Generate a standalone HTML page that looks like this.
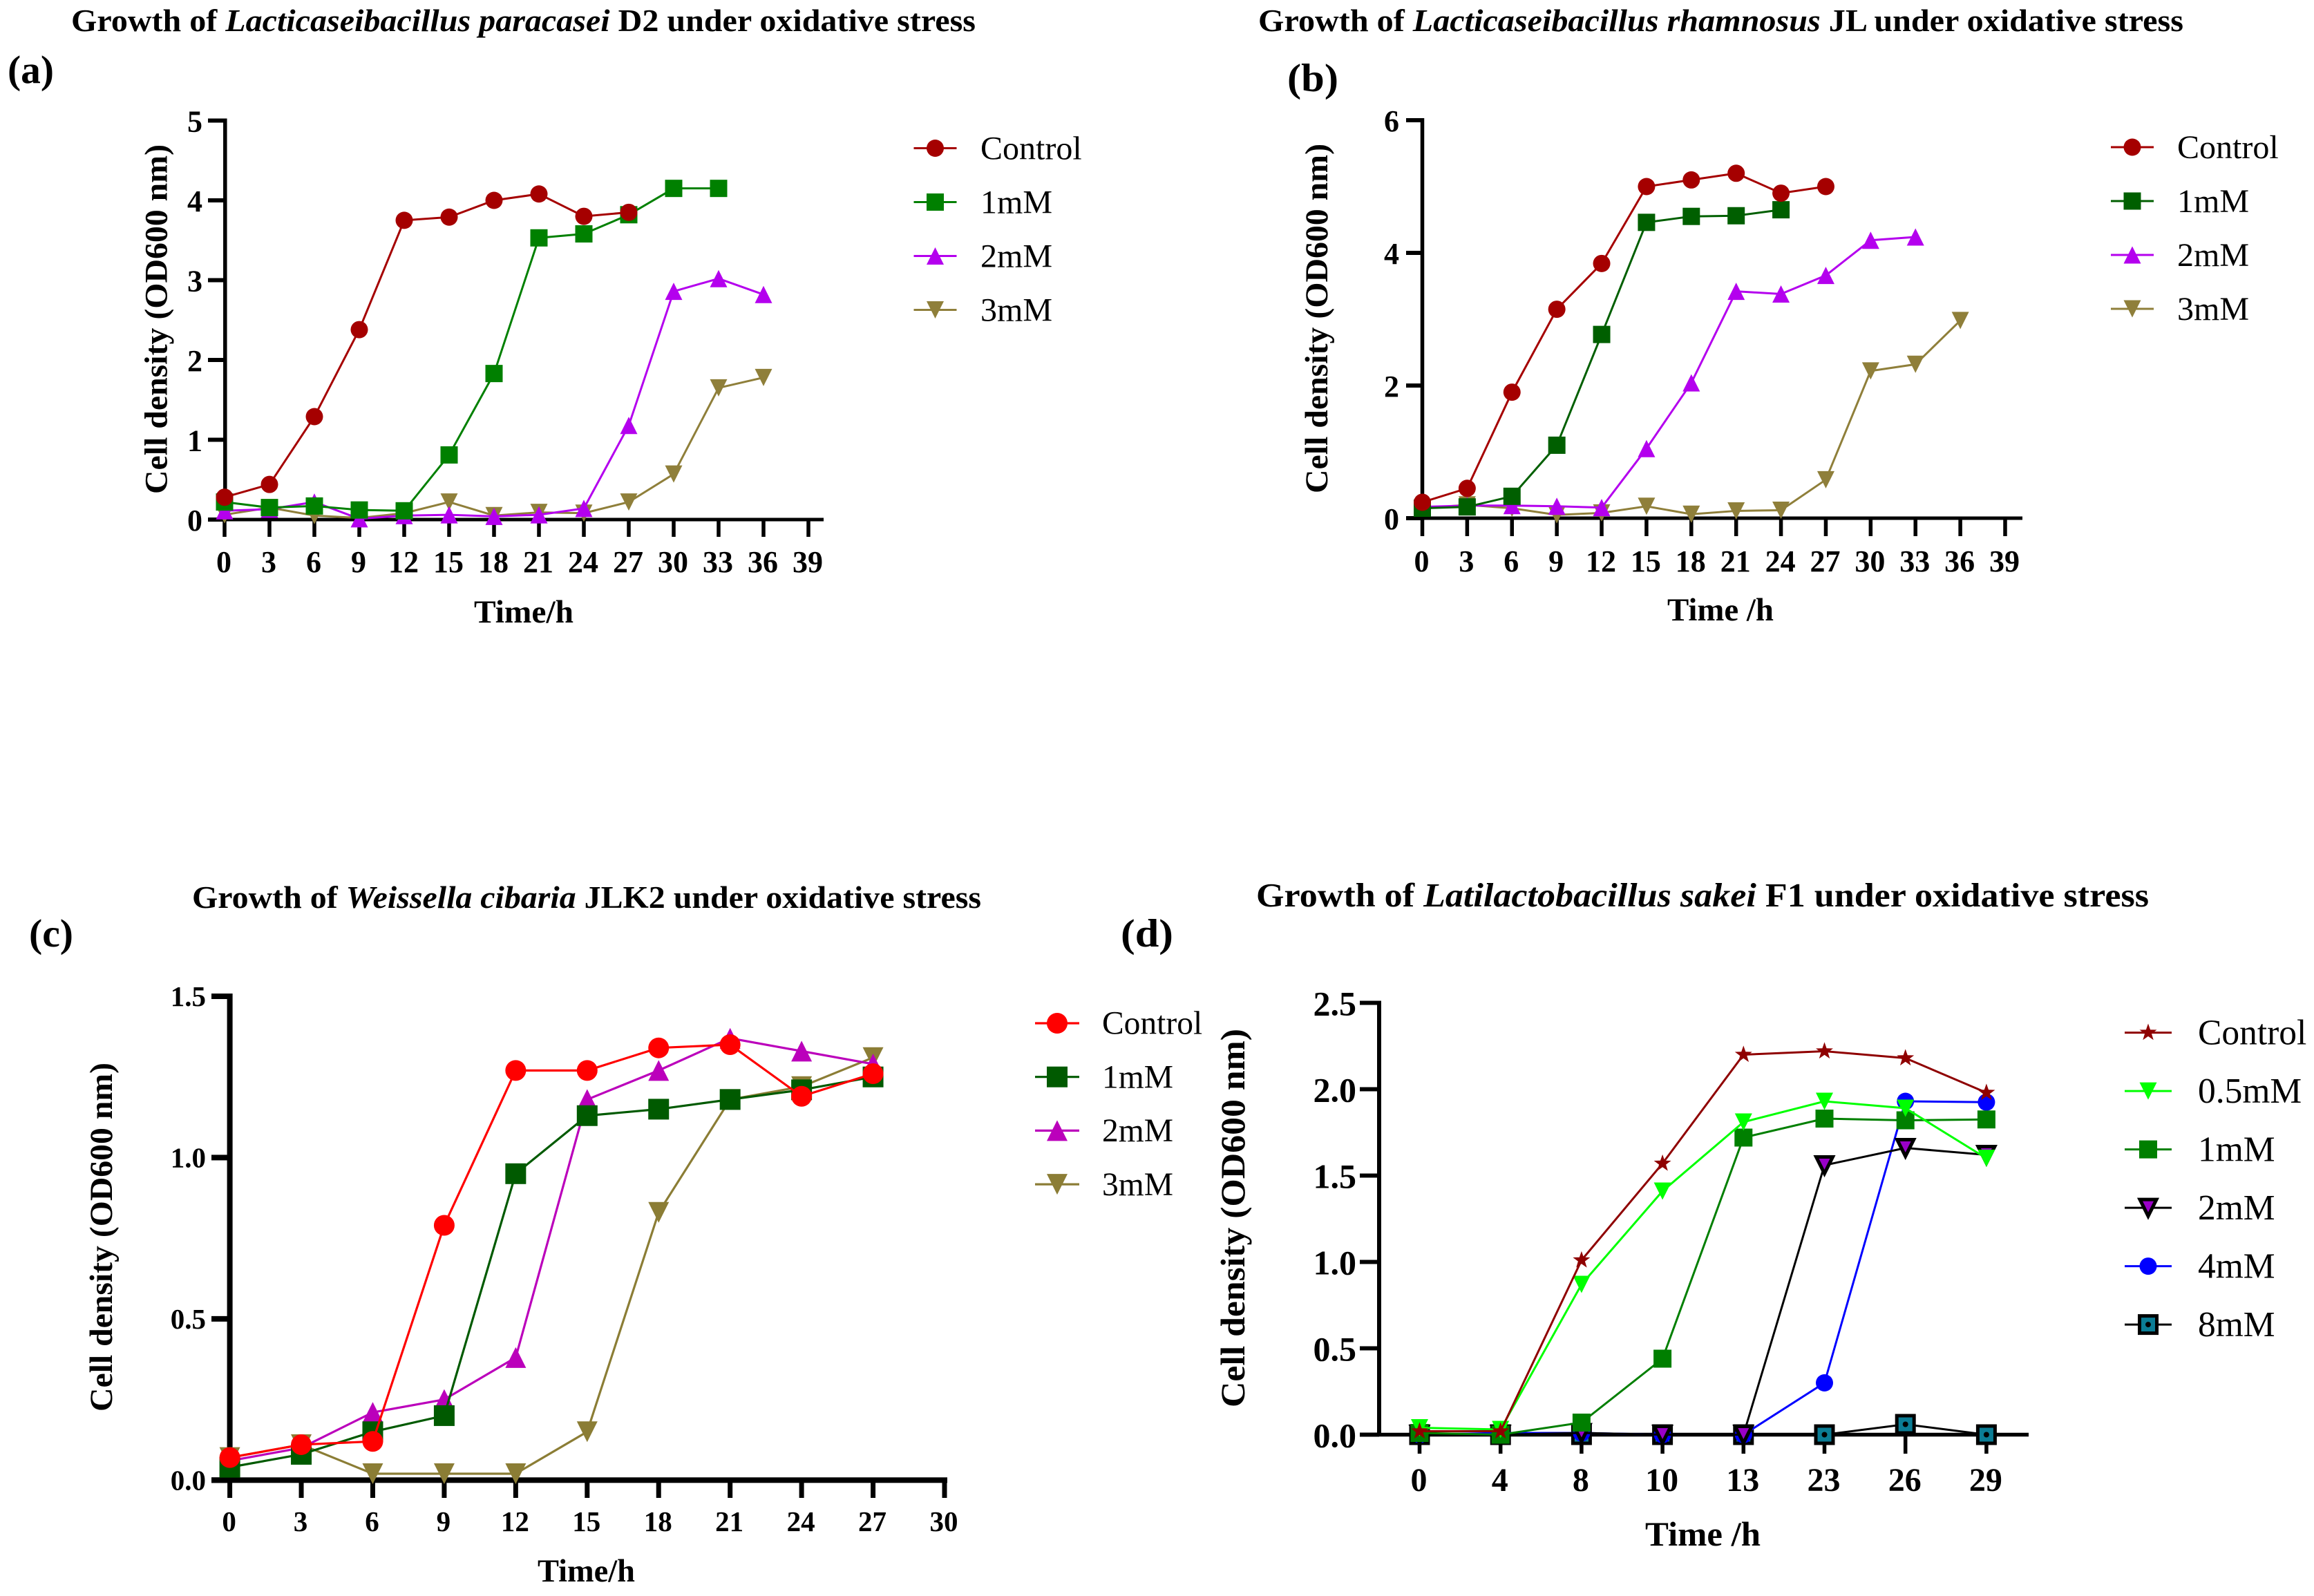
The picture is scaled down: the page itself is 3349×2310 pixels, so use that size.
<!DOCTYPE html>
<html lang="en">
<head>
<meta charset="utf-8">
<title>Growth of lactic acid bacteria under oxidative stress</title>
<style>
html,body{margin:0;padding:0;background:#fff;}
svg{display:block;}
text{font-family:"Liberation Serif",serif;fill:#000;}
.title{font-size:45px;font-weight:700;}
.title-d{font-size:49px;}
.panel-label{font-size:57px;font-weight:700;}
.axis-title{font-size:47px;font-weight:700;}
.axis-title-d{font-size:50px;}
.tick{font-weight:700;}
.legend{font-weight:400;}
</style>
</head>
<body>
<svg id="figure" xmlns="http://www.w3.org/2000/svg" width="3349" height="2310" viewBox="0 0 3349 2310">
  <rect width="3349" height="2310" fill="#fff"/>

  <g id="panel-a">
    <text class="title" x="103" y="45" textLength="1309" lengthAdjust="spacingAndGlyphs">Growth of <tspan font-style="italic">Lacticaseibacillus paracasei</tspan> D2 under oxidative stress</text>
    <text class="panel-label" x="11" y="120" textLength="67" lengthAdjust="spacingAndGlyphs">(a)</text>
    <text class="axis-title" transform="translate(241.5 715) rotate(-90)" textLength="506" lengthAdjust="spacingAndGlyphs">Cell density (OD600 nm)</text>
    <text class="axis-title" x="686" y="901" textLength="144" lengthAdjust="spacingAndGlyphs">Time/h</text>
  </g>

  <g id="panel-b">
    <text class="title" x="1821" y="45" textLength="1339" lengthAdjust="spacingAndGlyphs">Growth of <tspan font-style="italic">Lacticaseibacillus rhamnosus</tspan> JL under oxidative stress</text>
    <text class="panel-label" x="1863" y="132" textLength="74" lengthAdjust="spacingAndGlyphs">(b)</text>
    <text class="axis-title" transform="translate(1921 714) rotate(-90)" textLength="506" lengthAdjust="spacingAndGlyphs">Cell density (OD600 nm)</text>
    <text class="axis-title" x="2413" y="898" textLength="154" lengthAdjust="spacingAndGlyphs">Time /h</text>
  </g>

  <g id="panel-c">
    <text class="title" x="278" y="1314" textLength="1142" lengthAdjust="spacingAndGlyphs">Growth of <tspan font-style="italic">Weissella cibaria</tspan> JLK2 under oxidative stress</text>
    <text class="panel-label" x="42" y="1370" textLength="64" lengthAdjust="spacingAndGlyphs">(c)</text>
    <text class="axis-title" transform="translate(162 2043) rotate(-90)" textLength="505" lengthAdjust="spacingAndGlyphs">Cell density (OD600 nm)</text>
    <text class="axis-title" x="778" y="2289" textLength="141" lengthAdjust="spacingAndGlyphs">Time/h</text>
  </g>

  <g id="panel-d">
    <text class="title title-d" x="1818" y="1312" textLength="1292" lengthAdjust="spacingAndGlyphs">Growth of <tspan font-style="italic">Latilactobacillus sakei</tspan> F1 under oxidative stress</text>
    <text class="panel-label" x="1622" y="1370" textLength="76" lengthAdjust="spacingAndGlyphs">(d)</text>
    <text class="axis-title axis-title-d" transform="translate(1801 2037) rotate(-90)" textLength="548" lengthAdjust="spacingAndGlyphs">Cell density (OD600 nm)</text>
    <text class="axis-title axis-title-d" x="2381" y="2237" textLength="167" lengthAdjust="spacingAndGlyphs">Time /h</text>
  </g>
</svg>

<script>
// Panel (a) data
const aTimeTicks = [0,3,6,9,12,15,18,21,24,27,30,33,36,39];
const aDensityTicks = [0,1,2,3,4,5];
const aHours = [0,3,6,9,12,15,18,21,24,27,30,33,36];
const aControl = [0.28,0.44,1.29,2.38,3.75,3.79,4.00,4.08,3.80,3.85];
const a1mM = [0.22,0.15,0.17,0.12,0.11,0.81,1.83,3.53,3.58,3.82,4.15,4.15];
const a2mM = [0.11,0.13,0.22,0.01,0.05,0.06,0.04,0.06,0.14,1.18,2.86,3.02,2.82];
const a3mM = [0.06,0.15,0.05,0.02,0.08,0.22,0.05,0.09,0.08,0.22,0.57,1.65,1.78];

// Panel (b) data
const bTimeTicks = [0,3,6,9,12,15,18,21,24,27,30,33,36,39];
const bDensityTicks = [0,2,4,6];
const bHours = [0,3,6,9,12,15,18,21,24,27,30,33,36];
const bControl = [0.24,0.45,1.90,3.15,3.84,5.00,5.10,5.20,4.90,5.00];
const b1mM = [0.15,0.17,0.33,1.10,2.77,4.46,4.55,4.56,4.65];
const b2mM = [0.17,0.19,0.19,0.18,0.16,1.05,2.04,3.42,3.38,3.66,4.19,4.24];
const b3mM = [0.15,0.20,0.15,0.05,0.08,0.18,0.06,0.11,0.12,0.58,2.22,2.32,2.98];

// Panel (c) data
const cTimeTicks = [0,3,6,9,12,15,18,21,24,27,30];
const cDensityTicks = ['0.0','0.5','1.0','1.5'];
const cHours = [0,3,6,9,12,15,18,21,24,27];
const cControl = [0.07,0.11,0.12,0.79,1.27,1.27,1.34,1.35,1.19,1.26];
const c1mM = [0.04,0.08,0.15,0.20,0.95,1.13,1.15,1.18,1.21,1.25];
const c2mM = [0.06,0.10,0.21,0.25,0.38,1.18,1.27,1.37,1.33,1.29];
const c3mM = [0.07,0.11,0.02,0.02,0.02,0.15,0.83,1.18,1.22,1.31];

// Panel (d) data
const dTimeCategories = ['0','4','8','10','13','23','26','29'];
const dDensityTicks = ['0.0','0.5','1.0','1.5','2.0','2.5'];
const dControl = [0.02,0.02,1.01,1.57,2.20,2.22,2.18,1.98];
const d05mM = [0.04,0.03,0.87,1.41,1.81,1.93,1.89,1.60];
const d1mM = [0.01,0.00,0.07,0.44,1.72,1.83,1.82,1.825];
const d2mM = [0.00,0.00,0.01,0.00,0.00,1.56,1.66,1.62];
const d4mM = [0.00,0.01,0.01,0.00,0.00,0.30,1.93,1.925];
const d8mM = [0.00,0.00,0.00,0.00,0.00,0.00,0.06,0.00];

const SVG_NS = 'http://www.w3.org/2000/svg';

function make(tag, attrs, parent) {
  const el = document.createElementNS(SVG_NS, tag);
  for (const k in attrs) el.setAttribute(k, attrs[k]);
  parent.appendChild(el);
  return el;
}

function linear(d0, d1, r0, r1) {
  return function (v) { return r0 + (v - d0) * (r1 - r0) / (d1 - d0); };
}

function markerShape(parent, style, cx, cy) {
  const s = style.size, h = s / 2;
  let el;
  if (style.shape === 'circle') {
    el = make('circle', {cx: cx, cy: cy, r: h}, parent);
  } else if (style.shape === 'square') {
    el = make('rect', {x: cx - h, y: cy - h, width: s, height: s}, parent);
  } else if (style.shape === 'up') {
    el = make('polygon', {points: (cx - h) + ',' + (cy + h) + ' ' + (cx + h) + ',' + (cy + h) + ' ' + cx + ',' + (cy - h)}, parent);
  } else if (style.shape === 'down') {
    el = make('polygon', {points: (cx - h) + ',' + (cy - h) + ' ' + (cx + h) + ',' + (cy - h) + ' ' + cx + ',' + (cy + h)}, parent);
  } else {
    const pts = [];
    for (let i = 0; i < 10; i++) {
      const r = i % 2 ? h * 0.42 : h * 1.05;
      const ang = -Math.PI / 2 + i * Math.PI / 5;
      pts.push((cx + r * Math.cos(ang)) + ',' + (cy + r * Math.sin(ang)));
    }
    el = make('polygon', {points: pts.join(' ')}, parent);
  }
  el.setAttribute('fill', style.fill);
  if (style.stroke) {
    el.setAttribute('stroke', style.stroke);
    el.setAttribute('stroke-width', style.strokeWidth);
    el.setAttribute('stroke-linejoin', 'miter');
  }
  return el;
}

function centerDot(parent, style, cx, cy) {
  if (!style.dot) return null;
  return make('circle', {cx: cx, cy: cy, r: 4, fill: style.dot}, parent);
}

function drawAxes(root, cfg, xPositions, xLabels, yLabels, yScale) {
  const axes = make('g', {}, root);
  
  

  const top = yScale(Number(yLabels[yLabels.length - 1]));
  const yLine = make('rect', {x: cfg.yAxisX - cfg.yAxisW / 2, y: top - cfg.tickW / 2, width: cfg.yAxisW, height: cfg.zeroY - top + cfg.tickW / 2, fill: '#000'}, axes);
  
  

  const xLine = make('rect', {x: cfg.axisLeft, y: cfg.zeroY - cfg.xAxisW / 2, width: cfg.axisRight - cfg.axisLeft, height: cfg.xAxisW, fill: '#000'}, axes);
  
  

  xPositions.forEach(function (px, i) {
    const tick = make('rect', {x: px - cfg.xTickW / 2, y: cfg.zeroY, width: cfg.xTickW, height: cfg.tickBottom - cfg.zeroY, fill: '#000'}, axes);
    
    
    const label = make('text', {x: px - 1, y: cfg.xLabelY, 'text-anchor': 'middle', 'font-size': cfg.tickFont, class: 'tick'}, axes);
    
    
    label.textContent = xLabels[i];
  });

  yLabels.forEach(function (lab) {
    const py = yScale(Number(lab));
    const tick = make('rect', {x: cfg.axisLeft, y: py - cfg.tickW / 2, width: cfg.yAxisX - cfg.axisLeft, height: cfg.tickW, fill: '#000'}, axes);
    
    
    const label = make('text', {x: cfg.yLabelX, y: py + cfg.yLabelDy, 'text-anchor': 'end', 'font-size': cfg.yTickFont, class: 'tick'}, axes);
    
    
    label.textContent = lab;
  });
}

function drawSeries(root, cfg, series, xPositions, yScale) {
  // Drawn back-to-front so the first legend entry ends up on top.
  for (let s = series.length - 1; s >= 0; s--) {
    const item = series[s];
    const g = make('g', {}, root);
    
    
    const pts = item.values.map(function (v, i) { return [xPositions[i], yScale(v)]; });
    const line = make('polyline', {points: pts.map(function (p) { return p.join(','); }).join(' '), fill: 'none', stroke: item.style.line, 'stroke-width': cfg.lineW, 'stroke-linejoin': 'miter'}, g);
    
    
    pts.forEach(function (p) {
      const m = markerShape(g, item.style, p[0], p[1]);
      
      
      centerDot(g, item.style, p[0], p[1]);
    });
  }
}

function drawLegend(root, cfg, series) {
  const legend = make('g', {}, root);
  
  
  series.forEach(function (item, i) {
    const y = cfg.legendY + i * cfg.legendStep;
    const entry = make('g', {}, legend);
    
    
    make('line', {x1: cfg.legendX - cfg.legendHalf, x2: cfg.legendX + cfg.legendHalf, y1: y, y2: y, stroke: item.style.line, 'stroke-width': cfg.lineW}, entry);
    markerShape(entry, item.style, cfg.legendX, y);
    centerDot(entry, item.style, cfg.legendX, y);
    const label = make('text', {x: cfg.legendTextX, y: y + cfg.legendFont * 0.33, 'font-size': cfg.legendFont, class: 'legend'}, entry);
    
    
    label.textContent = item.name;
  });
}

function style(shape, size, fill, extra) {
  const o = {shape: shape, size: size, fill: fill, line: fill};
  if (extra) for (const k in extra) o[k] = extra[k];
  return o;
}

// ---------- Panel (a)
(function () {
  const cfg = {id:'a', zeroY:752, yAxisX:325.8, yAxisW:5.5, xAxisW:5, tickW:6, xTickW:5.5, axisLeft:301, axisRight:1192, tickBottom:777,
    xLabelY:828, yLabelX:293, yLabelDy:16, tickFont:44, yTickFont:44, lineW:3,
    legendX:1353.5, legendHalf:31, legendTextX:1419, legendY:214.5, legendStep:78, legendFont:48};
  const x = linear(0, 39, 325, 1170);
  const y = linear(0, 5, 752, 174.5);
  const root = document.getElementById('panel-a');
  const series = [
    {name:'Control', values:aControl, style:style('circle',25,'#a50000')},
    {name:'1mM', values:a1mM, style:style('square',25,'#008000')},
    {name:'2mM', values:a2mM, style:style('up',25,'#b400ee')},
    {name:'3mM', values:a3mM, style:style('down',25,'#8f7f3a')}
  ];
  drawAxes(root, cfg, aTimeTicks.map(x), aTimeTicks, aDensityTicks, y);
  drawSeries(root, cfg, series, aHours.map(x), y);
  drawLegend(root, cfg, series);
})();

// ---------- Panel (b)
(function () {
  const cfg = {id:'b', zeroY:750, yAxisX:2058.5, yAxisW:5.5, xAxisW:5, tickW:6, xTickW:5.5, axisLeft:2035, axisRight:2927, tickBottom:776,
    xLabelY:827, yLabelX:2025, yLabelDy:16, tickFont:44, yTickFont:44, lineW:3,
    legendX:3086, legendHalf:31, legendTextX:3151, legendY:213, legendStep:78, legendFont:48};
  const x = linear(0, 39, 2058.5, 2902);
  const y = linear(0, 6, 750, 174);
  const root = document.getElementById('panel-b');
  const series = [
    {name:'Control', values:bControl, style:style('circle',25,'#a50000')},
    {name:'1mM', values:b1mM, style:style('square',25,'#005f00')},
    {name:'2mM', values:b2mM, style:style('up',25,'#b400ee')},
    {name:'3mM', values:b3mM, style:style('down',25,'#8f7f3a')}
  ];
  drawAxes(root, cfg, bTimeTicks.map(x), bTimeTicks, bDensityTicks, y);
  drawSeries(root, cfg, series, bHours.map(x), y);
  drawLegend(root, cfg, series);
})();

// ---------- Panel (c)
(function () {
  const cfg = {id:'c', zeroY:2142.3, yAxisX:332.6, yAxisW:8, xAxisW:8, tickW:8, xTickW:7, axisLeft:306, axisRight:1371, tickBottom:2168,
    xLabelY:2216, yLabelX:298, yLabelDy:14, tickFont:41, yTickFont:41, lineW:3.2,
    legendX:1530, legendHalf:32, legendTextX:1595, legendY:1481, legendStep:77.7, legendFont:47.5};
  const x = linear(0, 30, 332.6, 1367);
  const y = linear(0, 1.5, 2142.3, 1442);
  const root = document.getElementById('panel-c');
  const series = [
    {name:'Control', values:cControl, style:style('circle',30,'#ff0000')},
    {name:'1mM', values:c1mM, style:style('square',30,'#005a00')},
    {name:'2mM', values:c2mM, style:style('up',30,'#bb00bb')},
    {name:'3mM', values:c3mM, style:style('down',30,'#8b7d35')}
  ];
  drawAxes(root, cfg, cTimeTicks.map(x), cTimeTicks, cDensityTicks, y);
  drawSeries(root, cfg, series, cHours.map(x), y);
  drawLegend(root, cfg, series);
})();

// ---------- Panel (d)
(function () {
  const cfg = {id:'d', zeroY:2076.5, yAxisX:1996, yAxisW:6, xAxisW:5.5, tickW:6, xTickW:5.5, axisLeft:1968, axisRight:2936, tickBottom:2104,
    xLabelY:2158, yLabelX:1963, yLabelDy:18, tickFont:48, yTickFont:50, lineW:3,
    legendX:3109, legendHalf:34, legendTextX:3181, legendY:1494.6, legendStep:84.5, legendFont:51.5};
  const slot = linear(0, 7, 2054.5, 2874.9);
  const y = linear(0, 2.5, 2076.5, 1451.5);
  const root = document.getElementById('panel-d');
  const series = [
    {name:'Control', values:dControl, style:style('star',25,'#8f0000')},
    {name:'0.5mM', values:d05mM, style:style('down',25,'#00ff00')},
    {name:'1mM', values:d1mM, style:style('square',26,'#007f00')},
    {name:'2mM', values:d2mM, style:{shape:'down',size:24,fill:'#9a00c8',line:'#000',stroke:'#000',strokeWidth:5}},
    {name:'4mM', values:d4mM, style:style('circle',25,'#0000ff')},
    {name:'8mM', values:d8mM, style:{shape:'square',size:25,fill:'#0b7d95',line:'#000',stroke:'#000',strokeWidth:5,dot:'#000'}}
  ];
  const xs = dTimeCategories.map(function (c, i) { return slot(i); });
  drawAxes(root, cfg, xs, dTimeCategories, dDensityTicks, y);
  drawSeries(root, cfg, series, xs, y);
  drawLegend(root, cfg, series);
})();
</script>
</body>
</html>
